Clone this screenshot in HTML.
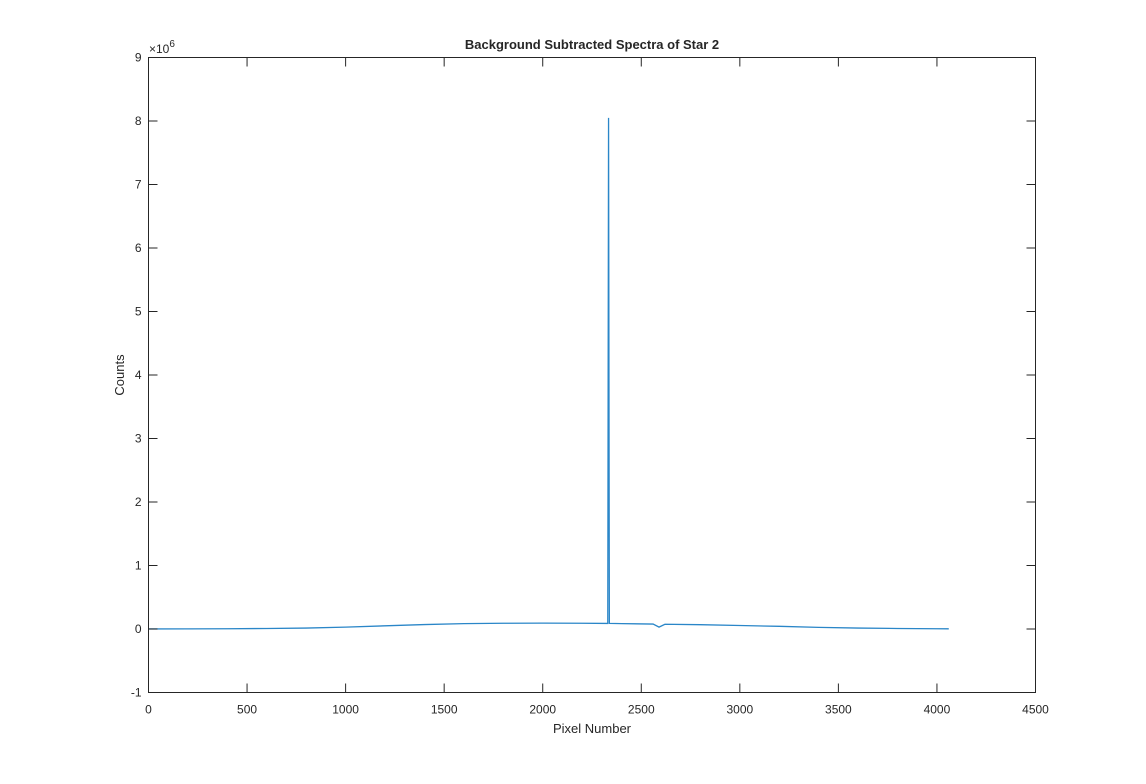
<!DOCTYPE html>
<html><head><meta charset="utf-8"><style>
body{margin:0;background:#fff;width:1146px;height:779px;overflow:hidden;font-family:"Liberation Sans",Arial,sans-serif}
svg text{font-family:"Liberation Sans",Arial,sans-serif;fill:#262626}
</style></head><body>
<svg id="chart" width="1146" height="779">
<rect x="0" y="0" width="1146" height="779" fill="#fff"/>
<g id="marks"></g>
<rect x="148.5" y="57.5" width="887" height="635" fill="none" stroke="#262626" stroke-width="1"/>
<g id="ticks"></g>
<text x="592" y="49" text-anchor="middle" font-size="13" font-weight="bold">Background Subtracted Spectra of Star 2</text>
<text x="592" y="733" text-anchor="middle" font-size="13">Pixel Number</text>
<text transform="translate(124,375) rotate(-90)" text-anchor="middle" font-size="13">Counts</text>
<text x="149" y="53" font-size="12">×10<tspan dy="-6" font-size="10">6</tspan></text>
</svg>
<script>
const xTicks=[0,500,1000,1500,2000,2500,3000,3500,4000,4500];
const yTicks=[-1,0,1,2,3,4,5,6,7,8,9];
const pixels=[1,200,400,600,800,1000,1200,1400,1600,1800,2000,2200,2330,2334,2338,2400,2560,2590,2620,2800,3000,3200,3400,3600,3800,4000,4060];
const counts=[0.001,0.002,0.004,0.008,0.015,0.03,0.05,0.07,0.085,0.09,0.092,0.09,0.088,8.05,0.088,0.085,0.078,0.03,0.075,0.068,0.055,0.042,0.025,0.015,0.008,0.004,0.003];
const X0=148.5,X1=1035.5,Y0=692.5,Y1=57.5;
const xs=v=>X0+(v-0)/(4500)*(X1-X0);
const ys=v=>Y0-(v+1)/10*(Y0-Y1);
const NS="http://www.w3.org/2000/svg";
const tg=document.getElementById('ticks');
xTicks.forEach(t=>{
 const x=xs(t);
 [[Y0,Y0-9],[Y1,Y1+9]].forEach(([a,b])=>{const l=document.createElementNS(NS,'line');l.setAttribute('x1',x);l.setAttribute('x2',x);l.setAttribute('y1',a);l.setAttribute('y2',b);l.setAttribute('stroke','#262626');
 
 tg.appendChild(l);});
 const s=document.createElementNS(NS,'text');s.setAttribute('x',x);s.setAttribute('y',Y0+21);s.setAttribute('text-anchor','middle');s.setAttribute('font-size','12');s.textContent=t;
 
 tg.appendChild(s);
});
yTicks.forEach(t=>{
 const y=ys(t);
 [[X0,X0+9],[X1,X1-9]].forEach(([a,b])=>{const l=document.createElementNS(NS,'line');l.setAttribute('y1',y);l.setAttribute('y2',y);l.setAttribute('x1',a);l.setAttribute('x2',b);l.setAttribute('stroke','#262626');
 
 tg.appendChild(l);});
 const s=document.createElementNS(NS,'text');s.setAttribute('x',X0-7);s.setAttribute('y',y+4);s.setAttribute('text-anchor','end');s.setAttribute('font-size','12');s.textContent=t;
 
 tg.appendChild(s);
});
const p=document.createElementNS(NS,'polyline');
p.setAttribute('points',pixels.map((v,i)=>xs(v)+','+ys(counts[i])).join(' '));
p.setAttribute('fill','none');p.setAttribute('stroke','#2a86c8');p.setAttribute('stroke-width','1.3');


document.getElementById('marks').appendChild(p);
</script>
</body></html>
